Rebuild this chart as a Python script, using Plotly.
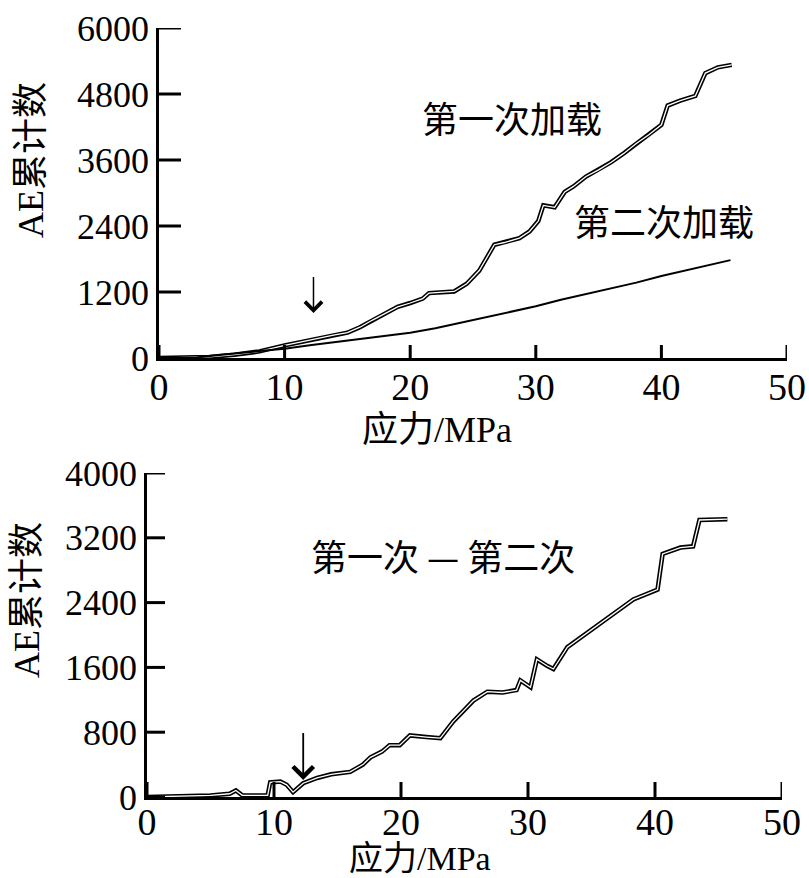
import plotly.graph_objects as go

W, H = 809, 878

# ---- top panel data ----
stress_first = [0, 2, 4, 6, 8, 10, 11, 12, 13, 14, 15, 16, 17, 18, 19, 20, 21, 21.5, 22.5, 23.5,
                24.5, 25.5, 26.7, 27.5, 28.7, 29.5, 30.2, 30.6, 31.5, 32.3, 33, 34, 35, 36, 37, 38,
                39, 40, 40.5, 41.5, 42.7, 43.5, 44.5, 45.6]
ae_first = [0, 5, 20, 60, 120, 230, 280, 330, 380, 420, 460, 560, 690, 810, 930, 1000, 1080, 1180, 1200, 1210,
            1350, 1590, 2060, 2100, 2180, 2300, 2490, 2775, 2740, 3020, 3120, 3300, 3420, 3560, 3720, 3900,
            4060, 4240, 4590, 4680, 4765, 5180, 5285, 5330]

stress_second = [0, 3, 5, 7, 10, 12, 14, 16, 18, 20, 22, 24, 26, 28, 30, 32, 34, 36, 38, 40, 42, 44, 45.5]
ae_second = [0, 10, 60, 100, 170, 230, 290, 350, 410, 460, 540, 640, 730, 830, 940, 1060, 1160, 1260,
             1370, 1490, 1600, 1700, 1780]

# ---- bottom panel data (first - second) ----
stress_diff = [0, 3, 5, 6.5, 7, 7.5, 9.5, 9.7, 10.5, 11, 11.5, 12.3, 13.4, 14.5, 16, 17, 17.6, 18.5, 19.1,
               19.9, 20.7, 22, 23.1, 24.1, 25.7, 26.8, 28, 29.1, 29.4, 30.2, 30.7, 31.5, 32, 33.1, 35.7,
               38.3, 40.2, 40.6, 42, 43, 43.5, 45.7]
ae_diff = [0, 10, 20, 40, 80, 20, 20, 180, 190, 150, 60, 170, 235, 280, 310, 400, 490, 560, 640,
           640, 760, 740, 726, 930, 1190, 1300, 1290, 1320, 1440, 1355, 1700, 1620, 1580, 1850, 2140,
           2440, 2560, 3000, 3080, 3095, 3420, 3430]

top_yticks = [0, 1200, 2400, 3600, 4800, 6000]
bot_yticks = [0, 800, 1600, 2400, 3200, 4000]
xticks = [0, 10, 20, 30, 40, 50]

fig = go.Figure()

fig.add_trace(go.Scatter(x=stress_first, y=ae_first, mode="lines",
                         line=dict(color="black", width=4.5), xaxis="x", yaxis="y"))
fig.add_trace(go.Scatter(x=stress_first, y=ae_first, mode="lines",
                         line=dict(color="white", width=1.3), xaxis="x", yaxis="y"))
fig.add_trace(go.Scatter(x=stress_second, y=ae_second, mode="lines",
                         line=dict(color="black", width=2), xaxis="x", yaxis="y"))
fig.add_trace(go.Scatter(x=stress_diff, y=ae_diff, mode="lines",
                         line=dict(color="black", width=4.5), xaxis="x2", yaxis="y2"))
fig.add_trace(go.Scatter(x=stress_diff, y=ae_diff, mode="lines",
                         line=dict(color="white", width=1.3), xaxis="x2", yaxis="y2"))

serif = "Liberation Serif, Times New Roman, serif"
cjk = "Liberation Serif, Noto Sans CJK SC, serif"

top_xdom = [159 / W, 787 / W]
top_ydom = [(H - 358) / H, (H - 28) / H]
bot_xdom = [147 / W, 782 / W]
bot_ydom = [(H - 797) / H, (H - 473) / H]

def xaxis_cfg(domain, anchor, standoff):
    return dict(domain=domain, anchor=anchor, range=[0, 50], tickvals=xticks, automargin=False,
                ticks="", showline=True, linecolor="black", linewidth=2.5, showgrid=False, zeroline=False,
                tickfont=dict(family=serif, size=38, color="black"), ticklabelstandoff=standoff)

def yaxis_cfg(domain, anchor, rng, vals):
    return dict(domain=domain, anchor=anchor, range=rng, tickvals=vals, automargin=False,
                ticks="", showline=True, linecolor="black", linewidth=2.5, showgrid=False, zeroline=False,
                ticksuffix="\u00a0\u00a0",
                tickfont=dict(family=serif, size=36, color="black"))

fig.update_layout(
    width=W, height=H, margin=dict(l=0, r=0, t=0, b=0), showlegend=False,
    paper_bgcolor="white", plot_bgcolor="white",
    xaxis=xaxis_cfg(top_xdom, "y", -6),
    yaxis=yaxis_cfg(top_ydom, "x", [0, 6000], top_yticks),
    xaxis2=xaxis_cfg(bot_xdom, "y2", -10),
    yaxis2=yaxis_cfg(bot_ydom, "x2", [0, 4000], bot_yticks),
)

# inward tick marks placed on the axes' own scales
shapes = []
def add_ticks(xr, yr, xdom, ydom, yvals, ylen_px, xlen_px):
    wpx = (xdom[1] - xdom[0]) * W
    hpx = (ydom[1] - ydom[0]) * H
    for v in yvals:
        shapes.append(dict(type="line", xref=xr + " domain", yref=yr, x0=0, x1=ylen_px / wpx,
                           y0=v, y1=v, layer="above", line=dict(color="black", width=3)))
    for v in xticks:
        shapes.append(dict(type="line", xref=xr, yref=yr + " domain", x0=v, x1=v,
                           y0=0, y1=xlen_px / hpx, layer="above", line=dict(color="black", width=3)))
add_ticks("x", "y", top_xdom, top_ydom, top_yticks, 22, 13)
add_ticks("x2", "y2", bot_xdom, bot_ydom, bot_yticks, 18, 15)
fig.update_layout(shapes=shapes)

ann = []
ann.append(dict(text="AE累计数", x=31 / W, y=(H - 160) / H, xref="paper", yref="paper",
                textangle=-90, showarrow=False, font=dict(family=cjk, size=36, color="black"),
                xanchor="center", yanchor="middle"))
ann.append(dict(text="AE累计数", x=27 / W, y=(H - 600) / H, xref="paper", yref="paper",
                textangle=-90, showarrow=False, font=dict(family=cjk, size=36, color="black"),
                xanchor="center", yanchor="middle"))
ann.append(dict(text="应力/MPa", x=437 / W, y=(H - 430) / H, xref="paper", yref="paper",
                showarrow=False, font=dict(family=cjk, size=36, color="black"),
                xanchor="center", yanchor="middle"))
ann.append(dict(text="应力/MPa", x=420 / W, y=(H - 858) / H, xref="paper", yref="paper",
                showarrow=False, font=dict(family=cjk, size=34, color="black"),
                xanchor="center", yanchor="middle"))
ann.append(dict(text="第一次加载", x=512 / W, y=(H - 117) / H, xref="paper", yref="paper",
                showarrow=False, font=dict(family="Noto Sans CJK SC", size=36, color="black"),
                xanchor="center", yanchor="middle"))
ann.append(dict(text="第二次加载", x=664 / W, y=(H - 220) / H, xref="paper", yref="paper",
                showarrow=False, font=dict(family="Noto Sans CJK SC", size=36, color="black"),
                xanchor="center", yanchor="middle"))
ann.append(dict(text="第一次 — 第二次", x=443 / W, y=(H - 555) / H, xref="paper", yref="paper",
                showarrow=False, font=dict(family="Noto Sans CJK SC", size=36, color="black"),
                xanchor="center", yanchor="middle"))
ann.append(dict(x=12.3, y=820, ax=12.3, ay=1500, xref="x", yref="y", axref="x", ayref="y",
                text="", showarrow=True, arrowhead=4, arrowsize=2.2, arrowwidth=1.5, arrowcolor="black"))
ann.append(dict(x=12.3, y=210, ax=12.3, ay=810, xref="x2", yref="y2", axref="x2", ayref="y2",
                text="", showarrow=True, arrowhead=4, arrowsize=2.2, arrowwidth=1.8, arrowcolor="black"))
fig.update_layout(annotations=ann)

fig.write_html("out.html")
